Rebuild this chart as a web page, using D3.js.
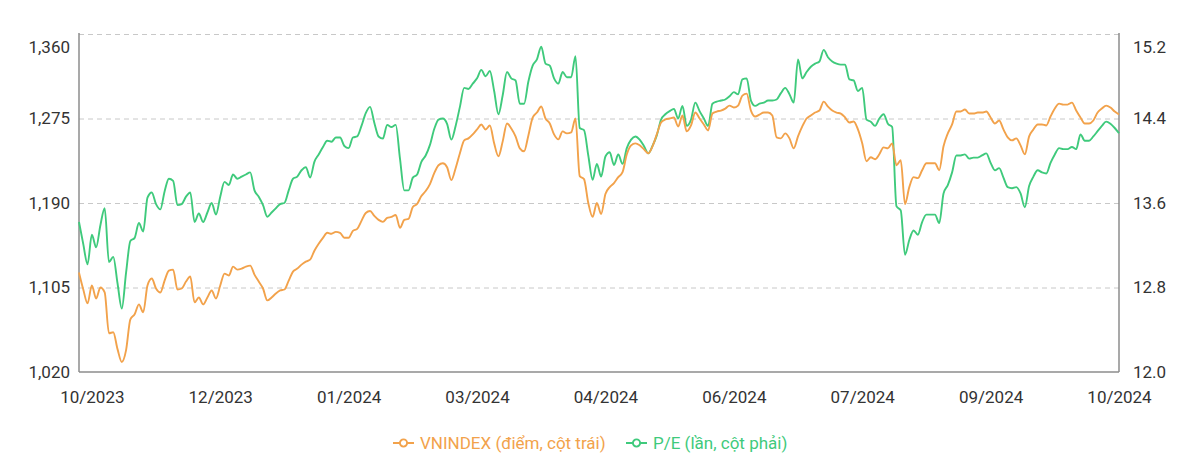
<!DOCTYPE html>
<html>
<head>
<meta charset="utf-8">
<script src="https://cdn.jsdelivr.net/npm/d3@7"></script>
<style>
  html, body { margin: 0; padding: 0; background: #fff; }
  svg { display: block; font-family: Roboto, "Noto Sans", sans-serif; }
</style>
</head>
<body>
<svg id="chart" width="1200" height="468"></svg>
<script>
// ---- data ----
const vnindex = [
1120,1103,1089,1107,1094,1105,1100,1059,1060,1043,1030,1042,1073,1078,1088,1080,1107,1114,1104,1100,
1112,1122,1123,1103,1104,1111,1116,1090,1095,1088,1095,1102,1094,1107,1119,1117,1126,1123,1124,1126,
1127,1118,1111,1104,1092,1095,1099,1102,1103,1112,1121,1124,1128,1131,1133,1142,1149,1155,1160,1159,
1161,1160,1155,1155,1162,1164,1172,1180,1182,1177,1173,1171,1175,1176,1178,1165,1173,1174,1186,1189,
1197,1202,1209,1220,1228,1230,1226,1213,1225,1240,1253,1255,1259,1264,1269,1264,1268,1250,1237,1252,
1270,1265,1257,1245,1242,1258,1276,1281,1287,1275,1270,1259,1254,1262,1260,1261,1275,1217,1214,1190,
1176,1190,1179,1199,1206,1210,1216,1221,1239,1248,1250,1248,1244,1240,1247,1259,1271,1274,1275,1276,
1267,1278,1262,1268,1281,1275,1269,1263,1280,1282,1283,1285,1288,1286,1288,1298,1300,1283,1277,1279,
1281,1281,1278,1256,1255,1260,1255,1245,1257,1267,1275,1278,1281,1283,1292,1287,1283,1281,1280,1276,
1271,1272,1264,1250,1232,1236,1234,1239,1246,1245,1250,1228,1233,1189,1206,1216,1215,1223,1230,1230,
1230,1223,1247,1260,1269,1282,1282,1284,1280,1280,1281,1281,1282,1276,1270,1273,1264,1256,1253,1255,
1248,1239,1257,1264,1269,1269,1268,1277,1285,1290,1289,1289,1291,1283,1276,1270,1270,1273,1281,1285,
1288,1286,1282,1279
];
const pe = [
13.42,13.21,13.02,13.30,13.18,13.39,13.55,13.04,13.09,12.84,12.60,12.94,13.24,13.27,13.41,13.33,13.65,13.70,13.59,13.54,
13.71,13.83,13.81,13.58,13.59,13.66,13.70,13.42,13.50,13.42,13.51,13.60,13.49,13.66,13.80,13.77,13.87,13.83,13.85,13.87,
13.89,13.72,13.66,13.58,13.47,13.51,13.55,13.59,13.60,13.72,13.83,13.85,13.91,13.94,13.84,13.99,14.06,14.13,14.19,14.18,
14.22,14.22,14.14,14.12,14.22,14.23,14.33,14.45,14.51,14.36,14.23,14.21,14.34,14.32,14.34,14.02,13.72,13.72,13.84,13.87,
13.99,14.05,14.15,14.30,14.39,14.40,14.35,14.20,14.33,14.51,14.69,14.68,14.73,14.78,14.86,14.80,14.85,14.66,14.44,14.62,
14.84,14.78,14.76,14.54,14.54,14.75,14.90,14.96,15.08,14.92,14.90,14.78,14.73,14.84,14.79,14.79,14.99,14.31,14.29,14.05,
13.82,13.97,13.85,14.04,14.08,13.96,14.06,13.97,14.12,14.20,14.23,14.20,14.14,14.07,14.14,14.24,14.39,14.44,14.47,14.49,
14.40,14.52,14.33,14.39,14.55,14.47,14.40,14.33,14.54,14.56,14.57,14.58,14.61,14.65,14.63,14.77,14.78,14.57,14.52,14.54,
14.55,14.57,14.57,14.58,14.64,14.69,14.63,14.55,14.96,14.78,14.84,14.89,14.92,14.94,15.05,14.98,14.94,14.92,14.91,14.91,
14.77,14.76,14.66,14.69,14.39,14.37,14.33,14.40,14.44,14.35,14.32,13.57,13.53,13.11,13.25,13.34,13.30,13.42,13.49,13.49,
13.49,13.41,13.69,13.77,13.89,14.05,14.05,14.06,14.02,14.03,14.03,14.05,14.07,13.98,13.91,13.93,13.84,13.75,13.74,13.75,
13.69,13.56,13.76,13.85,13.91,13.89,13.88,13.98,14.06,14.12,14.11,14.11,14.13,14.11,14.25,14.19,14.19,14.23,14.28,14.33,
14.37,14.35,14.31,14.26
];
const xTickLabels = ["10/2023","12/2023","01/2024","03/2024","04/2024","06/2024","07/2024","09/2024","10/2024"];
const xTickEvery = 30;           // label interval in trading sessions (counted back from the last one)
const leftTicks = [1020, 1105, 1190, 1275, 1360];
const rightTicks = [12.0, 12.8, 13.6, 14.4, 15.2];
const seriesNames = ["VNINDEX (điểm, cột trái)", "P/E (lần, cột phải)"];
const colors = ["#f2a24b", "#3fca7c"];

// ---- layout ----
const svg = d3.select("#chart");
const margin = {left: 79, right: 81, top: 34, bottom: 96};
const W = 1200, H = 468;
const x0 = margin.left, x1 = W - margin.right, y0 = H - margin.bottom, y1 = margin.top;
const N = vnindex.length;
const idx = d3.range(N);
const FS = 17;
const textColor = "#333";

const x = d3.scalePoint().domain(idx).range([x0, x1]);
const yL = d3.scaleLinear().domain([1020, 1360]).range([y0, y1]);
const yR = d3.scaleLinear().domain([12.0, 15.2]).range([y0, y1]);

// gridlines
const grid = svg.append("g").attr("transform", `translate(${x0},0)`)
  .call(d3.axisLeft(yL).tickValues(leftTicks).tickSize(-(x1 - x0)).tickFormat(""));
grid.select(".domain").remove();
grid.selectAll("line").attr("stroke", "#c8c8c8").attr("stroke-dasharray", "5,4").attr("stroke-width", 1);
grid.selectAll(".tick").filter(d => d === 1020).remove();

// axis lines
const axisColor = "#8c8c8c";
svg.append("line").attr("x1", x0).attr("x2", x0).attr("y1", y1 - 1).attr("y2", y0).attr("stroke", axisColor).attr("stroke-width", 1.5);
svg.append("line").attr("x1", x1).attr("x2", x1).attr("y1", y1 - 1).attr("y2", y0).attr("stroke", axisColor).attr("stroke-width", 1.5);
svg.append("line").attr("x1", x0).attr("x2", x1).attr("y1", y0).attr("y2", y0).attr("stroke", axisColor).attr("stroke-width", 1.5);

// left axis labels
const gl = svg.append("g").attr("transform", `translate(${x0},0)`)
  .call(d3.axisLeft(yL).tickValues(leftTicks).tickSize(0).tickPadding(9).tickFormat(d3.format(",")));
gl.select(".domain").remove();
gl.selectAll("text").attr("font-size", FS).attr("fill", textColor).attr("font-family", "Roboto, sans-serif");
gl.selectAll(".tick").filter(d => d === 1360).select("text").attr("y", 13);

// right axis labels
const gr = svg.append("g").attr("transform", `translate(${x1},0)`)
  .call(d3.axisRight(yR).tickValues(rightTicks).tickSize(0).tickPadding(14).tickFormat(d3.format(".1f")));
gr.select(".domain").remove();
gr.selectAll("text").attr("font-size", FS).attr("fill", textColor).attr("font-family", "Roboto, sans-serif");
gr.selectAll(".tick").filter(d => d === 15.2).select("text").attr("y", 13);

// x labels
const tickIdx = xTickLabels.map((_, i) => N - 1 - (xTickLabels.length - 1 - i) * xTickEvery);
const gx = svg.append("g").attr("transform", `translate(0,${y0})`)
  .call(d3.axisBottom(x).tickValues(tickIdx).tickSize(0).tickPadding(19)
    .tickFormat((d) => xTickLabels[tickIdx.indexOf(d)]));
gx.select(".domain").remove();
gx.selectAll("text").attr("font-size", FS).attr("fill", textColor).attr("font-family", "Roboto, sans-serif");

// lines
const lineL = d3.line().x(i => x(i)).y(i => yL(vnindex[i])).curve(d3.curveMonotoneX);
const lineR = d3.line().x(i => x(i)).y(i => yR(pe[i])).curve(d3.curveMonotoneX);
svg.append("path").datum(idx).attr("d", lineR).attr("fill", "none")
  .attr("stroke", colors[1]).attr("stroke-width", 1.9).attr("stroke-linejoin", "round");
svg.append("path").datum(idx).attr("d", lineL).attr("fill", "none")
  .attr("stroke", colors[0]).attr("stroke-width", 1.9).attr("stroke-linejoin", "round");

// legend
const legend = svg.append("g").attr("transform", "translate(0,443)");
const items = [{name: seriesNames[0], color: colors[0], x: 393}, {name: seriesNames[1], color: colors[1], x: 626}];
items.forEach(it => {
  const g = legend.append("g").attr("transform", `translate(${it.x},0)`);
  g.append("line").attr("x1", 0).attr("x2", 21).attr("y1", 0).attr("y2", 0).attr("stroke", it.color).attr("stroke-width", 2);
  g.append("circle").attr("cx", 10.5).attr("cy", 0).attr("r", 3.6).attr("fill", "#fff").attr("stroke", it.color).attr("stroke-width", 1.9);
  g.append("text").attr("x", 27).attr("y", 0).attr("dy", "0.35em").attr("font-size", FS)
    .attr("fill", it.color).attr("font-family", "Roboto, sans-serif").text(it.name);
});
</script>
</body>
</html>
